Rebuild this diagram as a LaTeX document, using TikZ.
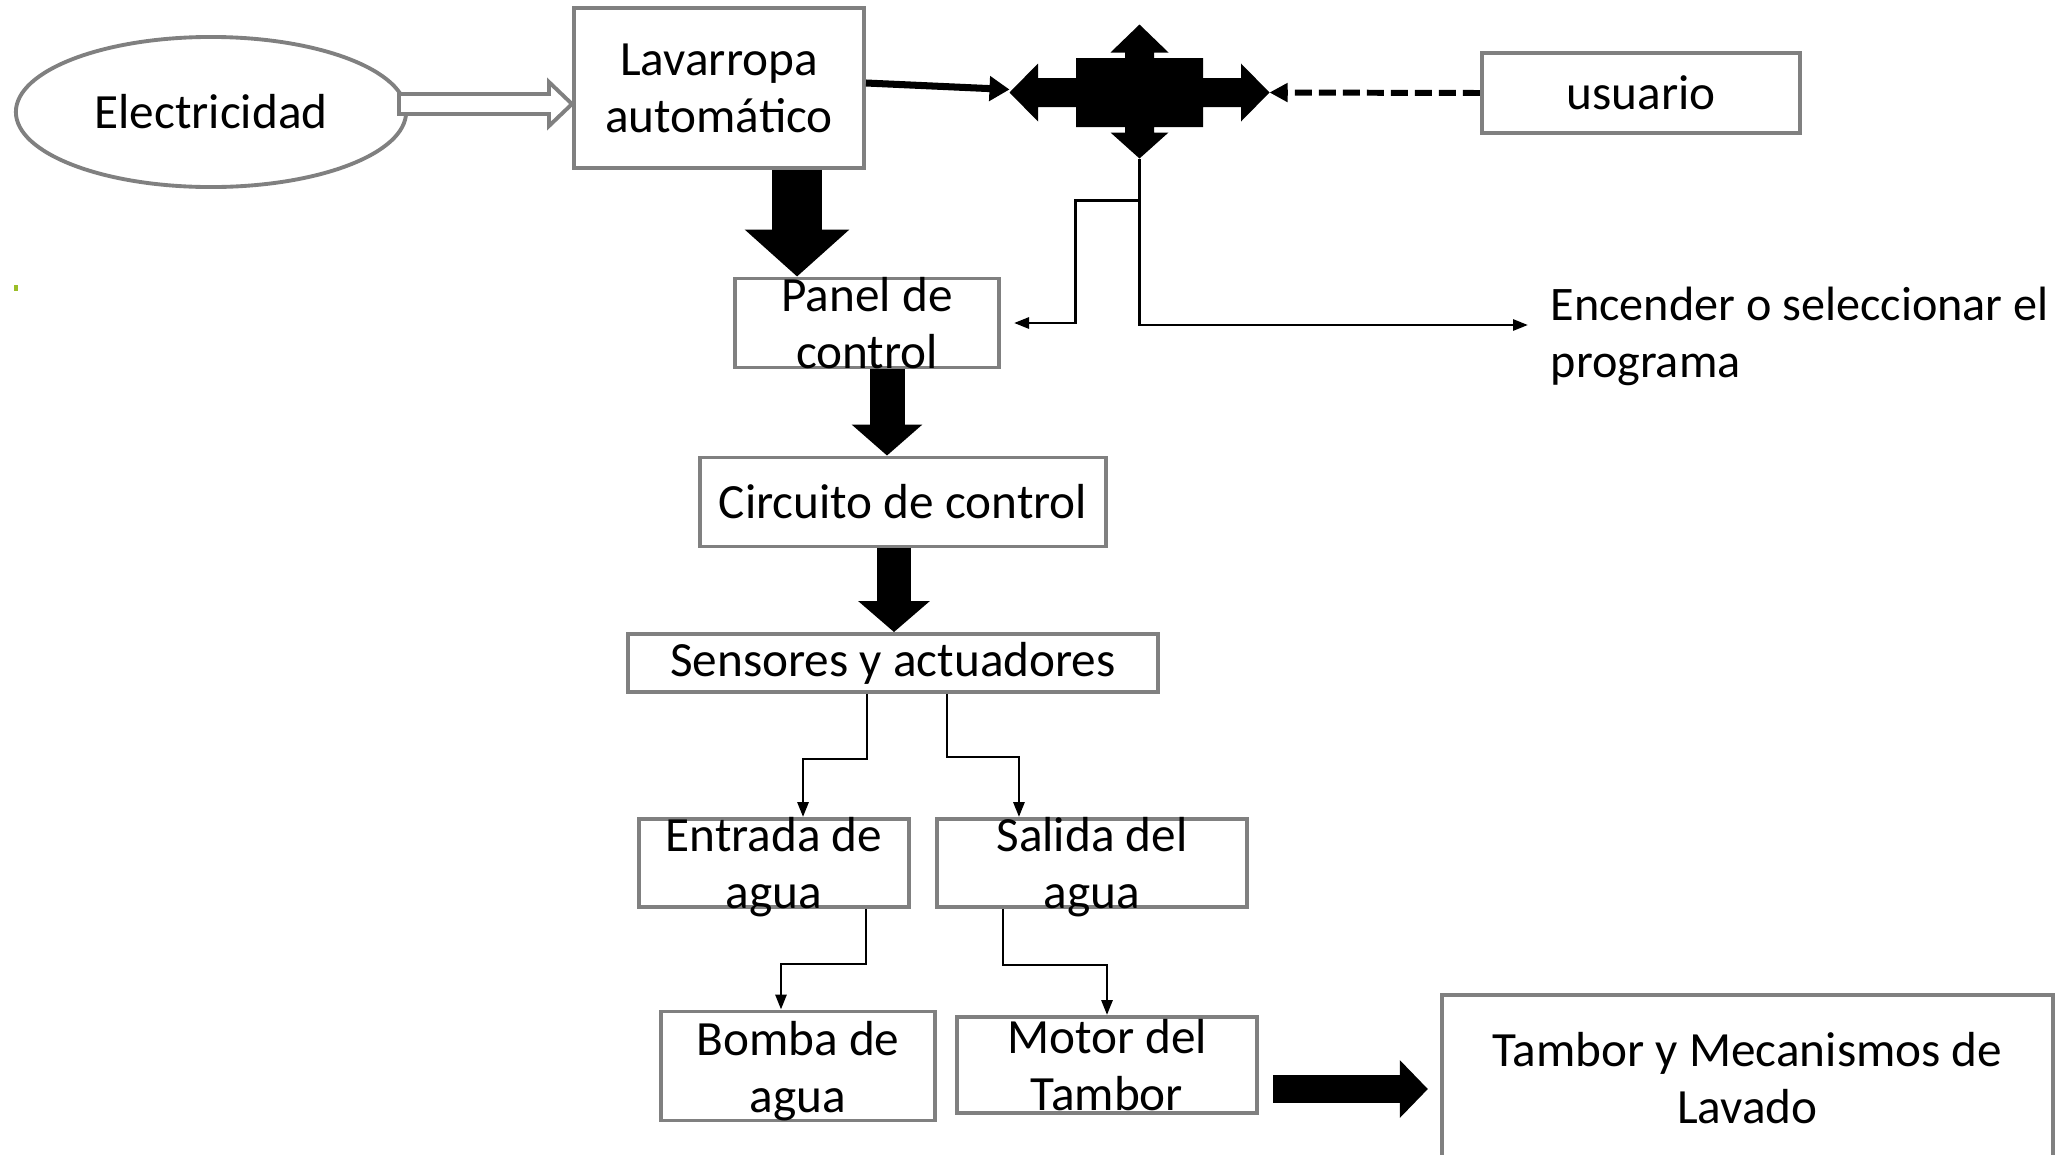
\documentclass[tikz,border=0pt]{standalone}
\usepackage{fontspec}
\setmainfont{Carlito}
\usetikzlibrary{arrows.meta,calc,shapes.geometric}
\definecolor{markgreen}{RGB}{155,190,40}
\begin{document}
\begin{tikzpicture}[x=0.01cm,y=-0.01cm,
    box/.style={draw=gray,line width=1.1pt,inner sep=0pt},
    txt/.style={font=\fontsize{14}{16.2}\selectfont,align=center},
    thinarr/.style={line width=0.8pt,-{Triangle[length=1.5mm,width=1.1mm]}}]
    \path[use as bounding box,clip] (0,0) rectangle (2069,1154);
    \fill[white] (0,0) rectangle (2069,1154);
    \fill[markgreen] (14,285) rectangle (18,291);
    \node[box,txt,ellipse,minimum width=3.9cm,minimum height=1.5cm] (elec) at (211,112) {Electricidad};
    \node[box,txt,minimum width=2.9cm,minimum height=1.6cm] (lav) at (719,88) {Lavarropa\\automático};
    \node[box,txt,minimum width=3.18cm,minimum height=0.8cm] (usu) at (1641,93) {usuario};
    \node[box,minimum width=2.64cm,minimum height=0.89cm] (panel) at (867,323) {};
    \node[txt] at (panel) {Panel de\\control};
    \node[box,txt,minimum width=4.06cm,minimum height=0.89cm] (circ) at (903,502) {Circuito de control};
    \node[box,txt,minimum width=5.3cm,minimum height=0.58cm] (sens) at (893,663) {Sensores y actuadores};
    \node[box,minimum width=2.7cm,minimum height=0.88cm] (ent) at (774,863) {};
    \node[txt] at ([yshift=-0.04cm]ent) {Entrada de\\agua};
    \node[box,minimum width=3.1cm,minimum height=0.88cm] (sal) at (1092,863) {};
    \node[txt] at ([yshift=-0.04cm]sal) {Salida del\\agua};
    \node[box,minimum width=2.74cm,minimum height=1.09cm] (bom) at (798,1066) {};
    \node[txt] at ([yshift=-0.05cm]bom) {Bomba de\\agua};
    \node[box,minimum width=3cm,minimum height=0.96cm] (mot) at (1107,1065) {};
    \node[txt] at (mot) {Motor del\\Tambor};
    \node[box,minimum width=6.11cm,minimum height=1.75cm] (tam) at (1747.5,1082.5) {};
    \node[txt] at ([yshift=0.045cm]tam) {Tambor y Mecanismos de\\Lavado};
    \node[txt,font=\fontsize{13.7}{16.2}\selectfont,align=left,anchor=base west,inner sep=0pt] (enc) at (1550,377) {Encender o seleccionar el\\programa};

    \coordinate (hub) at (1139.5,92.5);
    \fill[shift={(hub)}] (0,-68) -- (29,-40) -- (14.5,-40) -- (14.5,-34.5) -- (63.5,-34.5) -- (63.5,-14.5)
        -- (101.5,-14.5) -- (101.5,-29) -- (130,0) -- (101.5,29) -- (101.5,14.5) -- (63.5,14.5)
        -- (63.5,34.5) -- (14.5,34.5) -- (14.5,40) -- (29,40) -- (0,66) -- (-29,40) -- (-14.5,40)
        -- (-14.5,34.5) -- (-63.5,34.5) -- (-63.5,14.5) -- (-101.5,14.5) -- (-101.5,29) -- (-130,0)
        -- (-101.5,-29) -- (-101.5,-14.5) -- (-63.5,-14.5) -- (-63.5,-34.5) -- (-14.5,-34.5)
        -- (-14.5,-40) -- (-29,-40) -- cycle;
    \coordinate (hubW) at ($(hub)+(-130,-3)$);
    \coordinate (hubE) at ($(hub)+(130,0)$);
    \coordinate (hubS) at ($(hub)+(0,66)$);
    \coordinate (encpt) at (1528,325);

    \draw[draw=gray,fill=white,line width=1.1pt] ([yshift=-0.16cm]lav.west) -- ++(-23,-22) -- ++(0,12)
        -- ++(-150,0) -- ++(0,20) -- ++(150,0) -- ++(0,12) -- cycle;
    \draw[line width=2pt,-{Triangle[length=0.2cm,width=0.24cm]}] ([yshift=0.05cm]lav.east) -- (hubW);
    \draw[line width=1.7pt,dash pattern=on 0.17cm off 0.07cm,-{Triangle[length=0.18cm,width=0.18cm]}] (usu.west) -- (hubE);
    \draw[thinarr] (hubS) |- (encpt);
    \draw[thinarr] ($(hubS)+(0,42)$) -- ++(-64,0) |- ([xshift=0.13cm]panel.east);

    \coordinate (a1) at ([xshift=0.78cm]lav.south);
    \coordinate (a2) at ([xshift=0.2cm]panel.south);
    \coordinate (a3) at ([xshift=-0.09cm]circ.south);
    \coordinate (a4) at ([shift={(0.14cm,-0.24cm)}]mot.east);
    \draw[line width=0.5cm,-{Triangle[length=0.47cm,width=1.02cm]}] (a1) -- (a1 |- panel.north);
    \draw[line width=0.35cm,-{Triangle[length=0.31cm,width=0.69cm]}] (a2) -- (a2 |- circ.north);
    \draw[line width=0.34cm,-{Triangle[length=0.31cm,width=0.7cm]}] (a3) -- (a3 |- sens.north);
    \draw[line width=0.28cm,-{Triangle[length=0.28cm,width=0.56cm]},shorten >=0.12cm] (a4) -- (a4 -| tam.west);

    \draw[thinarr] ([xshift=-0.26cm]sens.south) -- ++(0,65) -| ([xshift=0.29cm]ent.north);
    \draw[thinarr] ([xshift=0.54cm]sens.south) -- ++(0,63) -| ([xshift=-0.73cm]sal.north);
    \draw[thinarr] ([xshift=0.92cm]ent.south) -- ++(0,55) -| ([xshift=-0.17cm]bom.north);
    \draw[thinarr] ([xshift=-0.89cm]sal.south) -- ++(0,56) -| (mot.north);
\end{tikzpicture}
\end{document}
